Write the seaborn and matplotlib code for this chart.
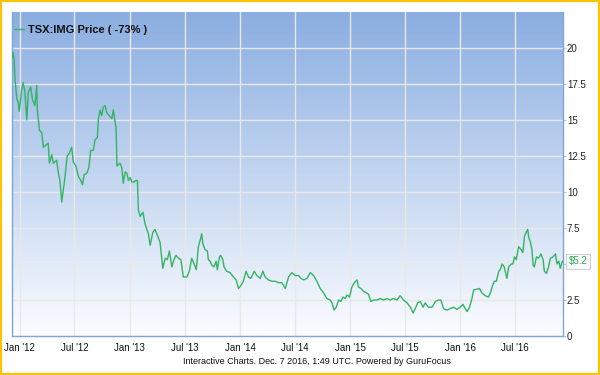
import numpy as np
import pandas as pd
import matplotlib
matplotlib.use("Agg")
import matplotlib.pyplot as plt
from matplotlib.colors import LinearSegmentedColormap
from matplotlib.patches import Rectangle
import seaborn as sns

# ---------------- data ----------------
start_date = "2011-12-07"
end_date = "2016-12-07"
series_label = "TSX:IMG Price ( -73% )"

# days since start_date
day_offsets = [
    0, 3, 7, 10, 16, 21, 24, 32, 37, 43, 49, 54, 62, 68, 76, 82, 84, 91, 99, 104,
    115, 120, 124, 132, 137, 148, 154, 159, 165, 170, 176, 183, 190, 198, 203, 212,
    220, 228, 234, 239, 248, 255, 261, 270, 275, 283, 286, 292, 297, 303, 309, 314,
    323, 331, 336, 342, 345, 348, 353, 358, 364, 369, 375, 381, 386, 392, 397, 405,
    411, 416, 419, 425, 434, 441, 452, 458, 467, 474, 482, 491, 500, 508, 515, 522,
    530, 537, 544, 552, 560, 568, 580, 588, 596, 604, 611, 618, 626, 629, 633, 640,
    648, 651, 657, 663, 670, 677, 681, 688, 692, 699, 703, 712, 723, 734, 743, 751,
    759, 767, 776, 784, 792, 803, 812, 823, 832, 839, 850, 862, 873, 884, 895, 906,
    917, 928, 939, 950, 958, 967, 978, 989, 1000, 1011, 1022, 1033, 1044, 1055, 1061,
    1068, 1075, 1083, 1091, 1097, 1105, 1111, 1119, 1127, 1135, 1144, 1149, 1157,
    1166, 1175, 1182, 1190, 1199, 1210, 1221, 1232, 1243, 1254, 1265, 1276, 1287,
    1298, 1310, 1321, 1330, 1337, 1345, 1354, 1363, 1370, 1381, 1393, 1404, 1414,
    1422, 1431, 1442, 1453, 1464, 1475, 1486, 1495, 1503, 1509, 1517, 1525, 1531,
    1542, 1550, 1558, 1569, 1580, 1586, 1592, 1599, 1606, 1614, 1619, 1625, 1632,
    1641, 1647, 1655, 1661, 1666, 1672, 1680, 1688, 1694, 1699, 1705, 1710, 1713,
    1719, 1724, 1728, 1732, 1739, 1746, 1754, 1761, 1765, 1772, 1779, 1785, 1794,
    1802, 1807, 1813, 1818, 1825,
]

prices = [
    19.3, 19.7, 19.2, 17.8, 16.5, 16.2, 15.6, 17.1, 17.6, 16.9, 15.0, 16.9, 17.3, 16.4,
    16.0, 17.4, 15.7, 14.3, 14.1, 13.1, 13.3, 13.4, 12.0, 12.6, 12.0, 12.2, 11.3, 10.8,
    9.3, 10.1, 11.1, 12.5, 12.7, 13.1, 12.1, 11.8, 11.1, 10.8, 10.5, 11.2, 11.3, 11.7,
    12.9, 12.9, 13.6, 13.8, 15.0, 15.7, 15.3, 15.9, 16.0, 15.5, 15.3, 15.1, 15.7, 14.8,
    14.5, 11.8, 11.9, 12.0, 11.7, 10.6, 11.4, 11.3, 10.8, 11.0, 10.7, 10.7, 10.8, 10.8,
    8.75, 8.3, 8.6, 7.8, 7.1, 6.3, 7.2, 7.4, 7.0, 6.5, 4.7, 5.4, 5.3, 5.9, 4.8, 5.3,
    5.6, 5.4, 5.3, 4.1, 4.1, 4.5, 5.4, 5.0, 4.6, 6.2, 6.8, 7.1, 6.4, 6.0, 5.9, 5.3,
    5.2, 4.9, 4.8, 5.2, 4.6, 5.5, 5.6, 5.3, 4.8, 4.5, 4.4, 4.1, 3.9, 3.3, 3.5, 3.8,
    4.5, 4.1, 4.0, 4.5, 4.2, 4.0, 4.5, 4.1, 3.9, 3.8, 3.8, 3.7, 3.7, 3.3, 4.1, 4.4,
    4.2, 4.2, 4.0, 3.9, 4.0, 4.4, 4.2, 3.8, 3.3, 3.0, 2.6, 2.5, 2.3, 1.8, 2.0, 2.5,
    2.4, 2.7, 2.6, 2.85, 2.7, 3.4, 3.7, 3.9, 3.4, 3.3, 3.1, 3.0, 2.9, 2.4, 2.5, 2.5,
    2.6, 2.5, 2.6, 2.5, 2.6, 2.5, 2.8, 2.5, 2.3, 2.0, 1.6, 1.9, 2.3, 2.4, 2.0, 2.3,
    2.0, 2.0, 2.4, 2.5, 2.5, 1.9, 1.8, 1.9, 2.0, 1.85, 2.0, 2.2, 1.9, 1.7, 2.0, 2.6,
    3.2, 3.25, 3.3, 3.0, 2.8, 2.7, 3.0, 3.4, 3.8, 3.8, 4.5, 4.6, 5.0, 4.8, 4.0, 4.8,
    5.0, 5.0, 5.5, 5.3, 6.2, 6.0, 5.8, 6.9, 7.2, 7.4, 6.9, 6.5, 6.0, 4.9, 4.8, 5.5,
    5.4, 5.7, 5.3, 4.5, 4.35, 4.8, 5.4, 5.5, 5.7, 5.0, 5.2, 4.7, 5.2,
]

y_ticks = [0, 2.5, 5, 7.5, 10, 12.5, 15, 17.5, 20]
y_tick_labels = ["0", "2.5", "5", "7.5", "10", "12.5", "15", "17.5", "20"]
x_tick_dates = ["2012-01-01", "2012-07-01", "2013-01-01", "2013-07-01", "2014-01-01",
                "2014-07-01", "2015-01-01", "2015-07-01", "2016-01-01", "2016-07-01"]
x_tick_labels = ["Jan '12", "Jul '12", "Jan '13", "Jul '13", "Jan '14",
                 "Jul '14", "Jan '15", "Jul '15", "Jan '16", "Jul '16"]
footer_text = "Interactive Charts. Dec. 7 2016, 1:49 UTC. Powered by GuruFocus"

# ---------------- style ----------------
sns.set_theme(style="white")
plt.rcParams["font.family"] = ["Liberation Sans", "DejaVu Sans"]

line_color = "#33b464"
axis_color = "#7fa4d9"
grid_color = "#e8e8e8"

df = pd.DataFrame({
    "date": pd.Timestamp(start_date) + pd.to_timedelta(day_offsets, unit="D"),
    "price": prices,
})

fig = plt.figure(figsize=(6, 3.75), dpi=100)
fig.patch.set_facecolor("white")
ax = fig.add_axes([12 / 600, 1 - 336 / 375, (563 - 12) / 600, (336 - 12) / 375])

# gradient background
cmap = LinearSegmentedColormap.from_list("bg", ["#fbfcff", "#8aaee1"])
grad = np.linspace(0, 1, 256).reshape(-1, 1)
ax.imshow(grad, cmap=cmap, aspect="auto", extent=[0, 1, 0, 1],
          transform=ax.transAxes, origin="lower", zorder=-2, interpolation="bilinear")

sns.lineplot(data=df, x="date", y="price", color=line_color, lw=1.0,
             label=series_label, ax=ax, zorder=3)

ax.set_xlim(pd.Timestamp(start_date), pd.Timestamp(end_date))
ax.set_ylim(0, 22.5)

# grid
ax.set_axisbelow(True)
ax.grid(True, color=grid_color, lw=1.0)

# y axis on right
ax.yaxis.tick_right()
ax.set_yticks(y_ticks)
ax.set_yticklabels(y_tick_labels)
ax.tick_params(axis="y", right=True, length=2, width=0.8, color="#b8cbe6",
               pad=0.8, labelsize=7, labelcolor="#222222")

ax.set_xticks(pd.to_datetime(x_tick_dates))
ax.set_xticklabels(x_tick_labels)
ax.tick_params(axis="x", bottom=False, length=0, pad=5, labelsize=7, labelcolor="#111111")

ax.set_xlabel("")
ax.set_ylabel("")

for side in ["left", "bottom", "right"]:
    ax.spines[side].set_visible(True)
    ax.spines[side].set_color(axis_color)
    ax.spines[side].set_linewidth(1.0)
ax.spines["top"].set_visible(False)

# legend
leg = ax.legend(loc="upper left", bbox_to_anchor=(0.0, 0.968), frameon=False,
                handlelength=0.9, handletextpad=0.35, borderaxespad=0.0,
                borderpad=0.2, prop={"weight": "bold", "size": 8})
for t in leg.get_texts():
    t.set_color("#111111")

# last value label
ax.annotate(f"${prices[-1]:.1f}", xy=(1.0, prices[-1]),
            xycoords=("axes fraction", "data"), xytext=(4, 0),
            textcoords="offset points", ha="left", va="center",
            fontsize=7, color="#2aa85a", zorder=10, annotation_clip=False,
            bbox=dict(boxstyle="square,pad=0.25", fc="#fafafa", ec="#cfcfcf", lw=0.8))

# footer
fig.text(317 / 600, 1 - 362 / 375, footer_text, ha="center", va="center",
         fontsize=6.5, color="#111111")

# border
fig.patches.append(Rectangle((0, 0), 1, 1, transform=fig.transFigure, fill=False,
                             ec="#fbc300", lw=3, zorder=100))

fig.savefig("out.png", dpi=100)
